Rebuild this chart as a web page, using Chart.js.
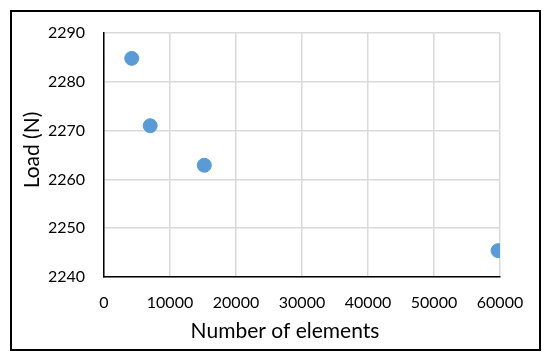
<!DOCTYPE html>
<html><head><meta charset="utf-8">
<script src="https://cdn.jsdelivr.net/npm/chart.js@4"></script>
<style>html,body{margin:0;padding:0;background:#fff}#c{display:block}</style>
</head><body>
<canvas id="c" width="550" height="360"></canvas>
<script>
const elements = [4200, 7000, 15200, 59700];
const loads = [2284.8, 2271.0, 2262.9, 2245.4];
const xTicks = [0, 10000, 20000, 30000, 40000, 50000, 60000];
const yTicks = [2240, 2250, 2260, 2270, 2280, 2290];
const xTitle = 'Number of elements';
const yTitle = 'Load (N)';

const FONT = 'Lato, "Open Sans", sans-serif';
const decorPlugin = {
  id: 'decor',
  afterDraw(chart) {
    const c = chart.ctx;
    c.save();
    c.strokeStyle = '#000';
    c.lineWidth = 2;
    c.strokeRect(11, 11, 529, 339);
    c.fillStyle = '#000';
    c.font = '21px ' + FONT;
    c.textAlign = 'center';
    c.textBaseline = 'middle';
    c.fillText(xTitle, 285, 331);
    c.translate(32, 150);
    c.rotate(-Math.PI / 2);
    c.fillText(yTitle, 0, 0);
    c.restore();
  }
};

new Chart(document.getElementById('c'), {
  type: 'scatter',
  data: {
    datasets: [{
      data: elements.map((x, i) => ({x, y: loads[i]})),
      backgroundColor: '#5B9BD5',
      borderColor: '#5B9BD5',
      pointRadius: 7,
      pointHoverRadius: 7
    }]
  },
  options: {
    responsive: false,
    animation: false,
    layout: {padding: {left: 18, right: 50, top: 33, bottom: 14}},
    plugins: {legend: {display: false}, tooltip: {enabled: false}},
    scales: {
      x: {
        type: 'linear', min: 0, max: 60000,
        afterBuildTicks: s => { s.ticks = xTicks.map(v => ({value: v})); },
        afterFit: s => { s.height = 69; },
        grid: {color: '#D9D9D9', lineWidth: 1.5, drawTicks: false},
        border: {color: '#000', width: 1.5},
        ticks: {color: '#000', padding: 16, maxRotation: 0, font: {family: FONT, size: 16}, callback: v => String(v)},
        title: {display: false}
      },
      y: {
        type: 'linear', min: 2240, max: 2290,
        afterBuildTicks: s => { s.ticks = yTicks.map(v => ({value: v})); },
        afterFit: s => { s.width = 86; },
        grid: {color: '#D9D9D9', lineWidth: 1.5, drawTicks: false},
        border: {color: '#000', width: 1.5},
        ticks: {color: '#000', padding: 19, font: {family: FONT, size: 16}, callback: v => String(v)},
        title: {display: false}
      }
    }
  },
  plugins: [decorPlugin]
});
</script>
</body></html>
